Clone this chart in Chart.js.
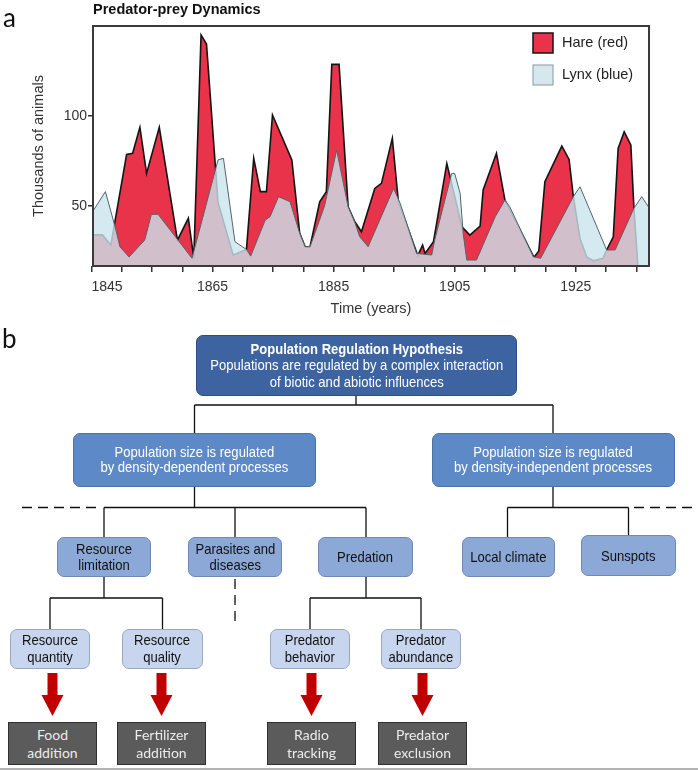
<!DOCTYPE html>
<html>
<head>
<meta charset="utf-8">
<title>Predator-prey Dynamics</title>
<script src="https://cdn.jsdelivr.net/npm/chart.js@4.4.1/dist/chart.umd.min.js"></script>
<style>
    html, body { margin: 0; padding: 0; background: #fff; }
    #page { position: relative; width: 698px; height: 770px; overflow: hidden; }
    #chart-wrap { position: absolute; left: 0; top: 0; width: 698px; height: 325px; }
    #diagram { position: absolute; left: 0; top: 0; }
    .panel-letter { position: absolute; font-family: Lato, "Open Sans", sans-serif; font-size: 26px; color: #111; line-height: 1; }
    .box {
        position: absolute; box-sizing: border-box;
        display: flex; align-items: center; justify-content: center; text-align: center;
        font-family: "Liberation Sans", Arial, sans-serif;
        font-size: 14.5px; line-height: 16px;
    }
    .box > div { white-space: nowrap; transform: scaleX(0.9); transform-origin: center; }
    .lvl1 { background: #3d64a1; border: 1px solid #2c4d82; border-radius: 7px; color: #fff; line-height: 16.5px; }
    .lvl2 { background: #5e89c7; border: 1px solid #4a71aa; border-radius: 7px; color: #fff; line-height: 15px; }
    .lvl3 { background: #8ba8d7; border: 1px solid #7089b3; border-radius: 7px; color: #111; }
    .lvl4 { background: #c7d6ee; border: 1px solid #9aa8bd; border-radius: 7px; color: #111; line-height: 17px; }
    .lvl5 { background: #5b5b5b; border: 1px solid #2f2f2f; color: #ececec; font-family: Lato, "Open Sans", sans-serif; font-size: 14px; line-height: 18px; }
    .lvl5 > div { transform: none; }
</style>
</head>
<body>
<div id="page">
    <div id="chart-wrap"><canvas id="popChart"></canvas></div>
    <div class="panel-letter" style="left:3px; top:4px;">a</div>
    <div class="panel-letter" style="left:2px; top:325px;">b</div>
    <svg id="diagram" width="698" height="770" xmlns="http://www.w3.org/2000/svg">
        <g stroke="#111" stroke-width="1.3" fill="none">
            <path d="M356 395 V405 M194.5 405 H553 M194.5 405 V433 M553 405 V433"/>
            <path d="M194.5 487 V507.5 M104 507.5 H366 M104 507.5 V537 M235 507.5 V537 M366 507.5 V537"/>
            <path d="M553 487 V507.5 M507.5 507.5 H628.5 M507.5 507.5 V537 M628.5 507.5 V535"/>
            <path d="M104 577 V598 M50 598 H162.5 M50 598 V629 M162.5 598 V629"/>
            <path d="M366 577 V598 M310 598 H421 M310 598 V629 M421 598 V629"/>
        </g>
        <g stroke="#111" stroke-width="1.3" fill="none" stroke-dasharray="10 6">
            <path d="M22 507.5 H102"/>
            <path d="M634 507.5 H692"/>
            <path d="M235 579 V623"/>
        </g>
        <g id="arrows" fill="#c00000"></g>
        <line x1="0" y1="769" x2="698" y2="769" stroke="#9a9a9a" stroke-width="1.5"/>
    </svg>
</div>
<script>
// Hare and lynx counts (thousands)
const hareYears = [1845, 1846.8, 1848.2, 1850.8, 1851.8, 1853.0, 1854.1, 1856.2, 1859.2, 1861.0,
    1861.9, 1863.1, 1864.0, 1865.9, 1868.4, 1870.6, 1871.8, 1872.9, 1873.9, 1874.9,
    1878.1, 1879.4, 1880.3, 1881.1, 1882.7, 1883.8, 1884.7, 1885.9, 1887.4, 1888.5,
    1889.6, 1891.8, 1892.9, 1894.7, 1895.7, 1898.9, 1899.7, 1900.1, 1901.5, 1903.7,
    1906.2, 1907.5, 1909.2, 1909.7, 1911.9, 1913.3, 1918.1, 1918.9, 1919.9, 1922.7,
    1923.9, 1924.6, 1925.7, 1926.8, 1927.9, 1929.5, 1930.1, 1931.2, 1932.0, 1933.0,
    1934.1, 1934.6, 1935.3];
const hareCounts = [34, 34, 28.3, 78.7, 79.3, 93.7, 68.1, 93.7, 31.1, 43.2,
    21.0, 145, 140, 52, 22.8, 25.9, 76.5, 58, 58, 100.6,
    75.6, 34.8, 27.4, 27.4, 52.4, 58, 128.7, 128.7, 49.6, 41.3,
    35.7, 59.8, 62.6, 87.6, 52.4, 22.5, 28.3, 23.7, 30.2, 73.7,
    38.5, 33.9, 38.9, 58.9, 79.3, 53.3, 21.5, 25, 63.5, 83.3,
    75.9, 55.2, 32, 21.8, 19.6, 21, 25.6, 32.9, 82, 91.3,
    83.9, 49.6, 15];

const lynxYears = [1845, 1847.3, 1848.9, 1849.7, 1851.2, 1853.8, 1854.9, 1856.0, 1861.6, 1865.9,
    1866.8, 1868.7, 1870.6, 1871.3, 1873.7, 1874.5, 1875.9, 1877.8, 1879.4, 1880.3,
    1881.1, 1883.5, 1885.5, 1887.4, 1888.5, 1889.3, 1890.7, 1894.9, 1896.0, 1898.7,
    1901.2, 1901.7, 1904.5, 1905.0, 1905.9, 1906.4, 1907.0, 1908.6, 1911.7, 1913.3,
    1914.1, 1918.0, 1919.2, 1924.6, 1925.7, 1930.1, 1931.5, 1934.6, 1935.9, 1937.0];
const lynxCounts = [45.9, 58, 38.5, 27.4, 21.7, 31.1, 45.4, 45.4, 21.0, 75.6,
    76.5, 30.2, 25.9, 22.2, 42.2, 44.1, 55.2, 52.4, 34.8, 27.4,
    27.4, 50, 81.1, 49.6, 41, 33, 27.4, 59.8, 51.5, 23.7,
    22.8, 31.1, 68.1, 68.1, 57, 34.8, 20, 20, 44.1, 53.3,
    49.6, 21.8, 21.0, 55.2, 60.7, 25.6, 25.6, 48.7, 55.2, 49.6];

// Axis ticks
const yTicks = [50, 100];
const xTicks = [1845, 1850, 1855, 1860, 1865, 1870, 1875, 1880, 1885, 1890,
    1895, 1900, 1905, 1910, 1915, 1920, 1925, 1930, 1935];
const xLabelYears = [1845, 1865, 1885, 1905, 1925];

const toPoints = (xs, ys) => xs.map((x, i) => ({ x: x, y: ys[i] }));

Chart.defaults.font.family = '"Liberation Sans", Arial, sans-serif';
Chart.defaults.color = '#333';

// Frame, title and legend inside the plot
const framePlugin = {
    id: 'framePlugin',
    afterDatasetsDraw(chart) {
        const { ctx, chartArea: a } = chart;
        ctx.save();
        ctx.strokeStyle = '#3a3a3a';
        ctx.lineWidth = 2;
        ctx.strokeRect(a.left, a.top, a.right - a.left, a.bottom - a.top);

        ctx.fillStyle = '#111';
        ctx.font = 'bold 14.5px "Liberation Sans", Arial, sans-serif';
        ctx.textBaseline = 'middle';
        ctx.textAlign = 'left';
        ctx.fillText('Predator-prey Dynamics', a.left, 10);

        // legend
        ctx.font = '14.5px "Liberation Sans", Arial, sans-serif';
        chart.data.datasets.forEach((ds, i) => {
            const y = 33 + i * 32;
            ctx.fillStyle = ds.legendFill;
            ctx.fillRect(533, y, 20, 20);
            ctx.strokeStyle = ds.legendStroke;
            ctx.lineWidth = ds.legendStrokeWidth;
            ctx.strokeRect(533, y, 20, 20);
            ctx.fillStyle = '#222';
            ctx.fillText(ds.label, 562, y + 10);
        });
        ctx.restore();
    }
};

const ctx = document.getElementById('popChart').getContext('2d');
new Chart(ctx, {
    type: 'line',
    data: {
        datasets: [{
            label: 'Hare (red)',
            data: toPoints(hareYears, hareCounts),
            borderColor: '#141414',
            borderWidth: 1.6,
            backgroundColor: '#e8334b',
            fill: 'start',
            order: 2,
            legendFill: '#e8334b',
            legendStroke: '#141414',
            legendStrokeWidth: 1.5
        }, {
            label: 'Lynx (blue)',
            data: toPoints(lynxYears, lynxCounts),
            borderColor: '#56636a',
            borderWidth: 1,
            backgroundColor: 'rgba(202, 228, 236, 0.8)',
            fill: 'start',
            order: 1,
            legendFill: '#d5e8ef',
            legendStroke: '#8a969c',
            legendStrokeWidth: 1
        }]
    },
    options: {
        responsive: true,
        maintainAspectRatio: false,
        animation: false,
        elements: { point: { radius: 0 }, line: { tension: 0 } },
        layout: { padding: { left: 0, right: 49, top: 26, bottom: 0 } },
        plugins: { legend: { display: false }, tooltip: { enabled: false } },
        scales: {
            x: {
                type: 'linear',
                min: 1845.25,
                max: 1937.1,
                afterBuildTicks: s => { s.ticks = xTicks.map(v => ({ value: v })); },
                afterFit: s => { s.height = 59; },
                grid: { drawOnChartArea: false, drawTicks: true, tickLength: 6, color: '#333', lineWidth: 1.5 },
                border: { display: false },
                ticks: {
                    autoSkip: false,
                    maxRotation: 0,
                    align: 'inner',
                    padding: 7,
                    font: { size: 14 },
                    callback: v => xLabelYears.includes(v) ? String(v) : ''
                },
                title: {
                    display: true,
                    text: 'Time (years)',
                    font: { size: 14.5 },
                    padding: { top: 0, bottom: 7 }
                }
            },
            y: {
                min: 16.7,
                max: 150,
                afterBuildTicks: s => { s.ticks = yTicks.map(v => ({ value: v })); },
                afterFit: s => { s.width = 93; },
                grid: { drawOnChartArea: false, drawTicks: true, tickLength: 5, color: '#333', lineWidth: 1.5 },
                border: { display: false },
                ticks: { padding: 1, font: { size: 14 } },
                title: {
                    display: true,
                    text: 'Thousands of animals',
                    font: { size: 14.5 },
                    padding: { top: 30, bottom: 0 }
                }
            }
        }
    },
    plugins: [framePlugin]
});

// Panel b: hypothesis diagram
const boxes = [
    { cls: 'lvl1', x: 196, y: 335, w: 321, h: 61, html: '<b>Population Regulation Hypothesis</b><br>Populations are regulated by a complex interaction<br>of biotic and abiotic influences' },
    { cls: 'lvl2', x: 73, y: 433, w: 243, h: 54, html: 'Population size is regulated<br>by density-dependent processes' },
    { cls: 'lvl2', x: 432, y: 433, w: 243, h: 54, html: 'Population size is regulated<br>by density-independent processes' },
    { cls: 'lvl3', x: 57, y: 537, w: 94, h: 40, html: 'Resource<br>limitation' },
    { cls: 'lvl3', x: 188, y: 537, w: 94, h: 40, html: 'Parasites and<br>diseases' },
    { cls: 'lvl3', x: 318, y: 537, w: 95, h: 40, html: 'Predation' },
    { cls: 'lvl3', x: 462, y: 537, w: 93, h: 40, html: 'Local climate' },
    { cls: 'lvl3', x: 581, y: 535, w: 95, h: 41, html: 'Sunspots' },
    { cls: 'lvl4', x: 10, y: 629, w: 80, h: 40, html: 'Resource<br>quantity' },
    { cls: 'lvl4', x: 122, y: 629, w: 81, h: 40, html: 'Resource<br>quality' },
    { cls: 'lvl4', x: 270, y: 629, w: 80, h: 40, html: 'Predator<br>behavior' },
    { cls: 'lvl4', x: 381, y: 629, w: 80, h: 40, html: 'Predator<br>abundance' },
    { cls: 'lvl5', x: 8, y: 722, w: 89, h: 43, html: 'Food<br>addition' },
    { cls: 'lvl5', x: 117, y: 722, w: 89, h: 43, html: 'Fertilizer<br>addition' },
    { cls: 'lvl5', x: 267, y: 722, w: 89, h: 43, html: 'Radio<br>tracking' },
    { cls: 'lvl5', x: 378, y: 722, w: 89, h: 43, html: 'Predator<br>exclusion' }
];
const page = document.getElementById('page');
boxes.forEach(b => {
    const el = document.createElement('div');
    el.className = 'box ' + b.cls;
    el.style.left = b.x + 'px';
    el.style.top = b.y + 'px';
    el.style.width = b.w + 'px';
    el.style.height = b.h + 'px';
    el.innerHTML = '<div>' + b.html + '</div>';
    page.appendChild(el);
});

// Red arrows from the level-4 boxes to the experiments
const arrowCenters = [52.5, 161.5, 311.5, 422.5];
const arrows = document.getElementById('arrows');
arrowCenters.forEach(c => {
    const p = document.createElementNS('http://www.w3.org/2000/svg', 'polygon');
    p.setAttribute('points', [
        [c - 5, 673], [c + 5, 673], [c + 5, 695], [c + 11, 695],
        [c, 716], [c - 11, 695], [c - 5, 695]
    ].map(q => q.join(',')).join(' '));
    arrows.appendChild(p);
});
</script>
</body>
</html>
